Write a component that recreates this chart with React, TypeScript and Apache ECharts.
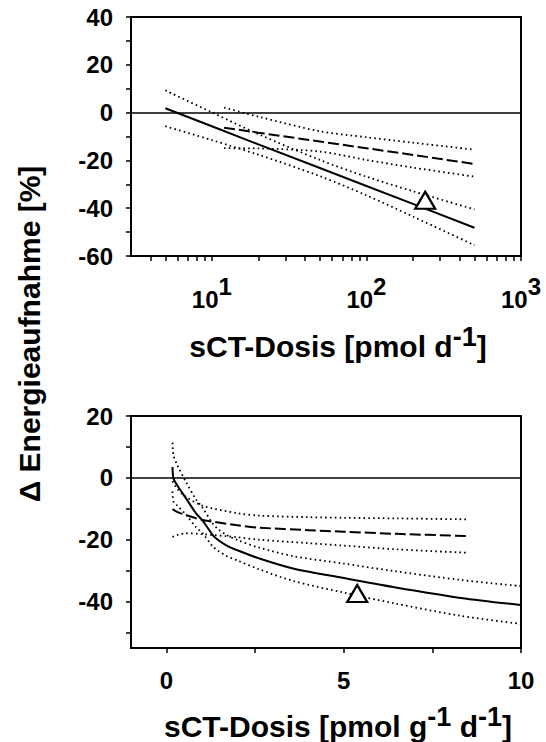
import React, { useEffect, useRef } from "react";
import * as echarts from "echarts";

// ---------- Top panel (log dose axis, pmol d^-1) ----------
const topSolidX = [5, 10, 20, 50, 100, 200, 500];
const topSolidY = [1.8, -5.7, -13.3, -23.2, -30.7, -38.2, -48.2];
const topSolidUpper = [9.3, 0.1, -9.0, -19.8, -26.8, -32.9, -40.5];
const topSolidLower = [-5.7, -11.5, -17.6, -26.6, -34.6, -43.5, -55.5];

const topDashX = [12, 20, 50, 100, 200, 500];
const topDashY = [-6.3, -8.4, -12.1, -14.9, -17.7, -21.5];
const topDashUpper = [2.1, -1.7, -7.8, -10.3, -12.6, -15.5];
const topDashLower = [-14.9, -15.0, -16.3, -19.8, -23.0, -26.8];

const topMarkerX = [240];
const topMarkerY = [-36.7];

const topYTicks = [-60, -50, -40, -30, -20, -10, 0, 10, 20, 30, 40];
const topYLabels = [-60, -40, -20, 0, 20, 40];
const topXTicks = [4, 5, 6, 7, 8, 9, 10, 20, 30, 40, 50, 60, 70, 80, 90, 100, 200, 300, 400, 500, 600, 700, 800, 900, 1000];
const topXLabels = [10, 100, 1000];

// ---------- Bottom panel (linear dose axis, pmol g^-1 d^-1) ----------
const botSolidX = [0.17, 0.2, 0.3, 0.55, 0.83, 1.02, 1.3, 1.45, 1.7, 2.0, 2.6, 3.57, 5.0, 6.4, 8.3, 10];
const botSolidY = [3.5, -0.3, -2.3, -6.6, -11.4, -13.8, -18.4, -20.0, -21.9, -23.4, -26.0, -29.3, -32.4, -35.3, -38.8, -41.1];
const botSolidUpper = [11.4, 7.2, 4.3, -1.3, -6.9, -9.7, -14.7, -16.5, -18.5, -20.1, -22.5, -25.3, -27.7, -30.1, -33.0, -35.0];
const botSolidLower = [-4.4, -7.8, -8.9, -11.9, -15.9, -17.9, -22.1, -23.5, -25.3, -26.7, -29.5, -33.3, -37.1, -40.5, -44.6, -47.2];

const botDashX = [0.17, 0.3, 0.55, 1.02, 2.0, 2.62, 4.0, 5.0, 6.5, 8.47];
const botDashY = [-10.1, -11.0, -12.0, -13.6, -15.3, -16.1, -16.9, -17.4, -18.1, -18.8];
const botDashUpper = [-1.1, -3.5, -6.1, -9.0, -11.4, -12.2, -12.7, -12.9, -13.1, -13.4];
const botDashLower = [-19.1, -18.5, -17.9, -18.2, -19.2, -20.0, -21.1, -21.9, -23.1, -24.2];

const botMarkerX = [5.38];
const botMarkerY = [-37.4];

const botYTicks = [-50, -40, -30, -20, -10, 0, 10, 20];
const botYLabels = [-40, -20, 0, 20];
const botXTicks = [0, 2.5, 5, 7.5, 10];
const botXLabels = [0, 5, 10];

const FONT = '"Liberation Sans", Arial, sans-serif';

const zip = (xs: number[], ys: number[]) => xs.map((x, i) => [x, ys[i]]);

const dotted = { color: "#000", width: 1.8, type: [1.6, 3.2] as any };
const dashed = { color: "#000", width: 2, type: [11, 4] as any };
const solid = { color: "#000", width: 2, type: "solid" as any };

function lineSeries(xi: number, data: number[][], style: any, smooth = 0.3, extra: any = {}) {
  return {
    type: "line",
    xAxisIndex: xi,
    yAxisIndex: xi,
    data,
    showSymbol: false,
    symbol: "none",
    smooth,
    lineStyle: style,
    silent: true,
    z: 3,
    ...extra,
  };
}

function zeroLine() {
  return {
    markLine: {
      silent: true,
      symbol: ["none", "none"],
      label: { show: false },
      lineStyle: { color: "#000", width: 1.5, type: "solid" },
      data: [{ yAxis: 0 }],
    },
  };
}

const tickLabelStyle = {
  color: "#000",
  fontFamily: FONT,
  fontWeight: "bold" as any,
  fontSize: 24,
};

const titleRich = {
  t: { fontFamily: FONT, fontWeight: "bold", fontSize: 30, color: "#000", padding: [9, 0, 0, 0] },
  s: { fontFamily: FONT, fontWeight: "bold", fontSize: 27, color: "#000", padding: [0, 0, 9, 0] },
};

const triangleMarker = (xi: number, xs: number[], ys: number[]) => ({
  type: "scatter",
  xAxisIndex: xi,
  yAxisIndex: xi,
  data: zip(xs, ys),
  symbol: "triangle",
  symbolSize: [20, 17],
  itemStyle: { color: "#fff", borderColor: "#000", borderWidth: 2.2, opacity: 1 },
  z: 5,
  silent: true,
});

export default function App() {
  const ref = useRef<HTMLDivElement>(null);
  useEffect(() => {
    if (!ref.current) return;
    const chart = echarts.init(ref.current, null, { renderer: "svg" });
    const axisLine = { show: true, onZero: false, lineStyle: { color: "#000", width: 2 } };
    const tick = (vals: number[]) => ({
      show: true,
      inside: false,
      length: 5,
      lineStyle: { color: "#000", width: 1.5 },
      customValues: vals,
    });
    const option: any = {
      animation: false,
      backgroundColor: "#fff",
      textStyle: { fontFamily: FONT },
      grid: [
        { left: 131, top: 17, width: 390, height: 239, show: true, borderColor: "#000", borderWidth: 2, backgroundColor: "transparent" },
        { left: 131, top: 416, width: 390, height: 236, show: true, borderColor: "#000", borderWidth: 2, backgroundColor: "transparent" },
      ],
      xAxis: [
        {
          gridIndex: 0,
          type: "log",
          logBase: 10,
          min: 3,
          max: 1000,
          axisLine,
          axisTick: tick(topXTicks),
          splitLine: { show: false },
          minorTick: { show: false },
          axisLabel: {
            ...tickLabelStyle,
            margin: 18,
            customValues: topXLabels,
            formatter: (v: number) => `{b|10}{s|${Math.round(Math.log10(v))}}`,
            rich: {
              b: { ...tickLabelStyle, padding: [13, 0, 0, 0] },
              s: { ...tickLabelStyle, padding: [0, 0, 13, 0] },
            },
          },
          name: "{t|sCT-Dosis [pmol d}{s|-1}{t|]}",
          nameLocation: "middle",
          nameGap: 66,
          nameTextStyle: { rich: titleRich, padding: [0, 0, 0, 24] },
        },
        {
          gridIndex: 1,
          type: "value",
          min: -1,
          max: 10,
          axisLine,
          axisTick: tick(botXTicks),
          splitLine: { show: false },
          axisLabel: { ...tickLabelStyle, margin: 20, customValues: botXLabels },
          name: "{t|sCT-Dosis [pmol g}{s|-1}{t| d}{s|-1}{t|]}",
          nameLocation: "middle",
          nameGap: 54,
          nameTextStyle: { rich: titleRich, padding: [0, 0, 0, 24] },
        },
      ],
      yAxis: [
        {
          gridIndex: 0,
          type: "value",
          min: -60,
          max: 40,
          axisLine,
          axisTick: tick(topYTicks),
          splitLine: { show: false },
          axisLabel: { ...tickLabelStyle, margin: 18, customValues: topYLabels },
        },
        {
          gridIndex: 1,
          type: "value",
          min: -55,
          max: 20,
          axisLine,
          axisTick: tick(botYTicks),
          splitLine: { show: false },
          axisLabel: { ...tickLabelStyle, margin: 18, customValues: botYLabels },
        },
      ],
      graphic: [
        {
          type: "text",
          x: 29,
          y: 334,
          rotation: Math.PI / 2,
          style: {
            text: "Δ Energieaufnahme [%]",
            font: `bold 30px ${FONT}`,
            fill: "#000",
            align: "center",
            verticalAlign: "middle",
          },
        },
      ],
      series: [
        lineSeries(0, zip(topSolidX, topSolidY), solid, 0, zeroLine()),
        lineSeries(0, zip(topSolidX, topSolidUpper), dotted),
        lineSeries(0, zip(topSolidX, topSolidLower), dotted),
        lineSeries(0, zip(topDashX, topDashY), dashed, 0),
        lineSeries(0, zip(topDashX, topDashUpper), dotted),
        lineSeries(0, zip(topDashX, topDashLower), dotted),
        triangleMarker(0, topMarkerX, topMarkerY),
        lineSeries(1, zip(botSolidX, botSolidY), solid, 0.3, zeroLine()),
        lineSeries(1, zip(botSolidX, botSolidUpper), dotted),
        lineSeries(1, zip(botSolidX, botSolidLower), dotted),
        lineSeries(1, zip(botDashX, botDashY), dashed),
        lineSeries(1, zip(botDashX, botDashUpper), dotted),
        lineSeries(1, zip(botDashX, botDashLower), dotted),
        triangleMarker(1, botMarkerX, botMarkerY),
      ],
    };
    chart.setOption(option);
    return () => chart.dispose();
  }, []);
  return (
    <div
      ref={ref}
      style={{ position: "absolute", left: 0, top: 0, width: 546, height: 742, background: "#fff" }}
    />
  );
}
